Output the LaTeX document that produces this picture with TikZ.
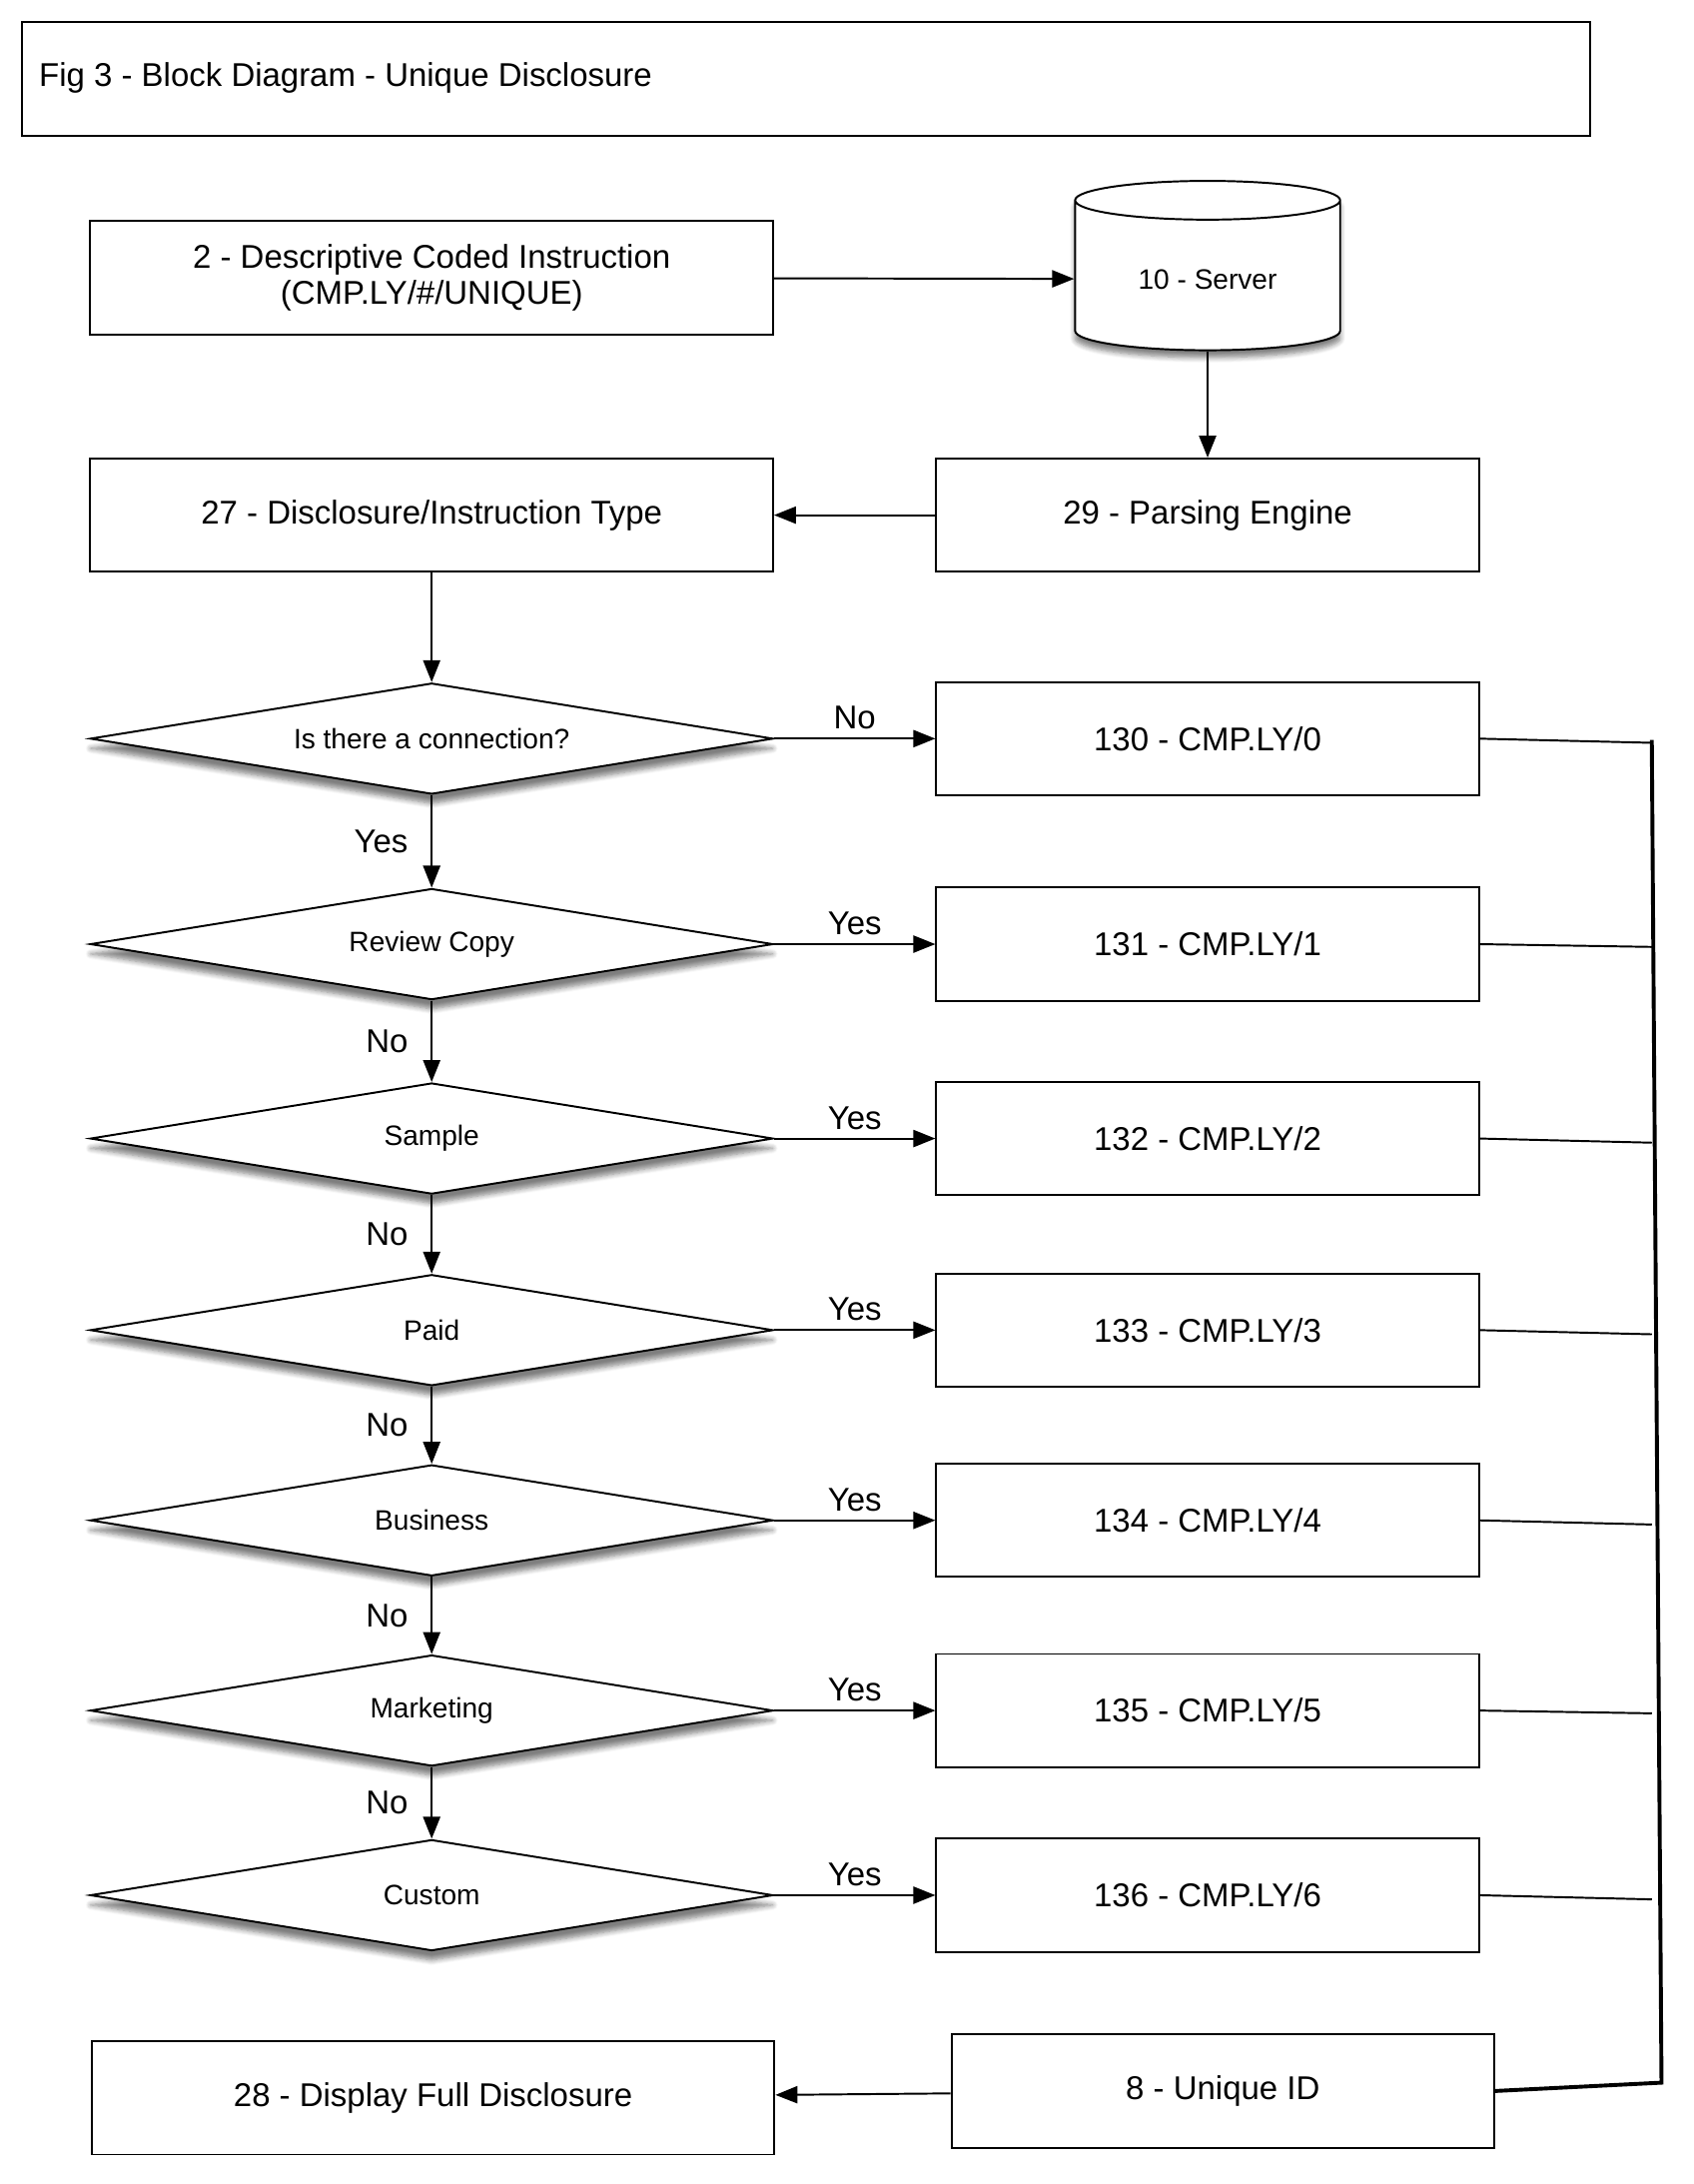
\documentclass[tikz,border=0pt]{standalone}
\usepackage{fontspec}
\setmainfont{Liberation Sans}
\usetikzlibrary{shapes.geometric,arrows.meta,shadows.blur}
\begin{document}
\begin{tikzpicture}[x=0.02cm,y=-0.02cm,
 box/.style={draw,line width=0.8pt,fill=white,minimum width=9.84cm,minimum height=1.63cm,font=\fontsize{13.5}{15}\selectfont,align=center},
 rbox/.style={box,minimum width=7.82cm},
 dia/.style={draw,line width=0.8pt,fill=white,diamond,aspect=6.1,minimum width=9.84cm,minimum height=1.6cm,inner sep=0pt,font=\fontsize{11.5}{13}\selectfont,blur shadow={shadow blur steps=6,shadow xshift=0pt,shadow yshift=-4pt,shadow opacity=50}},
 arr/.style={-{Triangle[length=9pt,width=7pt]},line width=0.8pt},
 lab/.style={font=\fontsize{13.5}{15}\selectfont}]
\useasboundingbox (0,0) rectangle (1220,1573);
\node[draw,line width=0.8pt,minimum width=22.6cm,minimum height=1.64cm,anchor=north west] (title) at (15,15) {};
\node[anchor=west,font=\fontsize{13.5}{15}\selectfont] (tt) at (22,56) {Fig 3 - Block Diagram - Unique Disclosure};
\node[box] (b2) at (311,200) {2 - Descriptive Coded Instruction\\(CMP.LY/\#/UNIQUE)};
\node[draw,line width=0.8pt,fill=white,cylinder,shape border rotate=90,aspect=0.25,minimum width=3.82cm,minimum height=2.44cm,font=\fontsize{11.5}{13}\selectfont,blur shadow={shadow blur steps=6,shadow xshift=0pt,shadow yshift=-3pt,shadow opacity=50}] (srv) at (870,201) {10 - Server};
\node[rbox] (b29) at (870,371) {29 - Parsing Engine};
\node[box] (b27) at (311,371) {27 - Disclosure/Instruction Type};
\node[dia] (d0) at (311,532) {Is there a connection?};
\node[dia] (d1) at (311,680) {Review Copy};
\node[dia] (d2) at (311,820) {Sample};
\node[dia] (d3) at (311,958) {Paid};
\node[dia] (d4) at (311,1095) {Business};
\node[dia] (d5) at (311,1232) {Marketing};
\node[dia] (d6) at (311,1365) {Custom};
\node[rbox] (r0) at (870,532) {130 - CMP.LY/0};
\node[rbox] (r1) at (870,680) {131 - CMP.LY/1};
\node[rbox] (r2) at (870,820) {132 - CMP.LY/2};
\node[rbox] (r3) at (870,958) {133 - CMP.LY/3};
\node[rbox] (r4) at (870,1095) {134 - CMP.LY/4};
\node[rbox] (r5) at (870,1232) {135 - CMP.LY/5};
\node[rbox] (r6) at (870,1365) {136 - CMP.LY/6};
\node[rbox] (b8) at (881,1506) {8 - Unique ID};
\node[box] (b28) at (312,1511) {28 - Display Full Disclosure};
\draw[arr] (b2) -- (srv);
\draw[arr] (srv) -- (b29);
\draw[arr] (b29) -- (b27);
\draw[arr] (b27) -- (d0);
\draw[arr] (d0) -- node[lab,above]{No} (r0);
\foreach \a in {1,...,6} \draw[arr] (d\a.east) -- node[lab,above]{Yes} (r\a);
\draw[arr] (d0.south) -- node[lab,left,xshift=-6pt]{Yes} (d1.north);
\foreach \a/\b in {1/2,2/3,3/4,4/5,5/6} \draw[arr] (d\a.south) -- node[lab,left,xshift=-6pt]{No} (d\b.north);
\coordinate (bt) at (1190,533);
\coordinate (bb) at (1197,1500);
\foreach \i/\y in {0/535,1/682,2/823,3/961,4/1098,5/1234,6/1368}
  \draw[line width=0.8pt] (r\i.east) -- (1190,\y);
\draw[line width=1.6pt] (bt) -- (bb) -- (b8.east);
\draw[arr] (b8) -- (b28);
\end{tikzpicture}
\end{document}
